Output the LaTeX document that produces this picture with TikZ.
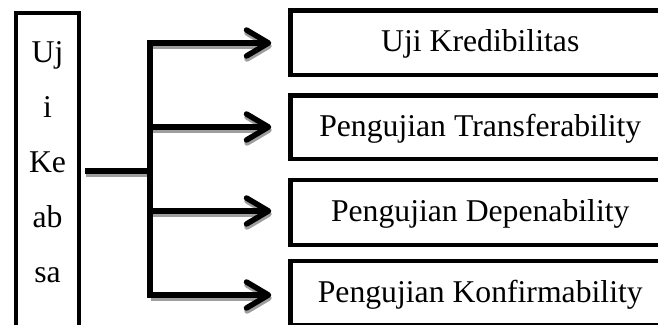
\documentclass[tikz,border=0pt]{standalone}
\usepackage{fontspec}
\setmainfont{Liberation Serif}
\usetikzlibrary{arrows.meta}
\begin{document}
\begin{tikzpicture}[x=1pt,y=-1pt,
  every node/.style={font=\fontsize{31.7}{38}\selectfont},
  framebox/.style={draw=black, line width=4.5pt, minimum width=379.5pt,
    text height=24pt, text depth=6pt, inner sep=0pt},
  sidebox/.style={draw=black, line width=4pt, minimum width=63.5pt,
    minimum height=330pt, inner sep=0pt, anchor=north},
  sideword/.style={anchor=base, inner sep=0pt},
  conn/.style={line width=5.5pt},
  arr/.style={conn, -{Straight Barb[length=22pt,width=26pt,round]}, shorten >=17pt},
  shadowline/.style={draw=black!38}
]
\useasboundingbox (0,0) rectangle (658,324);
\clip (0,0) rectangle (658,324);

% left vertical box with the word broken over lines
\node[sidebox] (uji) at (47.25,11) {};
\foreach \w [count=\i] in {Uj,i,Ke,ab,sa}
  \node[sideword] (w\i) at (47.5,{62+55*(\i-1)}) {\w};

% the four target boxes
\node[framebox, minimum height=64.5pt] (b1) at (480.25,42.75) {Uji Kredibilitas};
\node[framebox, minimum height=63.5pt] (b2) at (480.25,127.25) {Pengujian Transferability};
\node[framebox, minimum height=65pt] (b3) at (480.25,212.5) {Pengujian Depenability};
\node[framebox, minimum height=64pt] (b4) at (480.25,293) {Pengujian Konfirmability};

% branching points on the vertical bar
\coordinate (hub) at (150,171);
\coordinate (k1) at (150,43);
\coordinate (k2) at (150,127);
\coordinate (k3) at (150,211);
\coordinate (k4) at (150,295);

% drop shadows of the connectors
\begin{scope}[transform canvas={xshift=0.5pt,yshift=-3pt}]
  \draw[conn, shadowline, shorten <=4pt] (uji.east |- hub) -- (hub);
  \foreach \i in {1,2,3,4}
    \draw[arr, shadowline] (k\i) -- (k\i -| b\i.west);
\end{scope}

% connectors
\draw[conn, shorten <=4pt] (uji.east |- hub) -- (hub);
\draw[conn, line cap=rect] (k1) -- (k4);
\foreach \i in {1,2,3,4}
  \draw[arr] (k\i) -- (k\i -| b\i.west);
\end{tikzpicture}
\end{document}
